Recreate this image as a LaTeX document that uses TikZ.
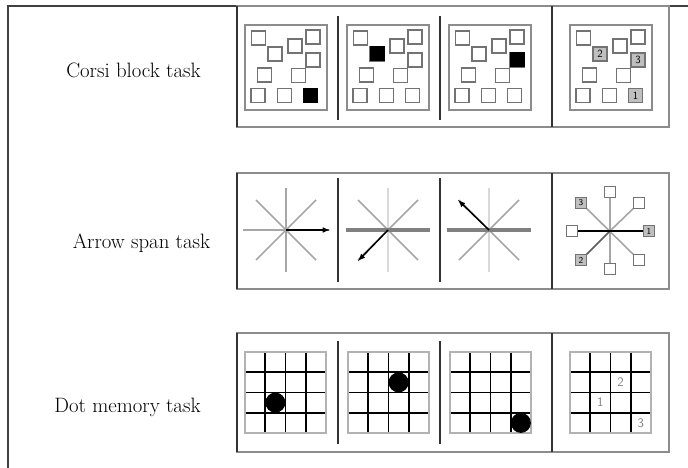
\documentclass[tikz,border=0pt]{standalone}
\usetikzlibrary{positioning}
\begin{document}
\begin{tikzpicture}[x=1pt,y=-1pt,
  rowbox/.style={draw=black!45,line width=1.8pt},
  divider/.style={draw=black!80,line width=2.2pt},
  panel/.style={draw=black!45,line width=1.6pt},
  blk/.style={draw=black!55,line width=1.5pt},
  numblk/.style={draw=black!55,fill=black!25,line width=1.2pt,minimum size=#1,inner sep=0pt,font=\sffamily\fontsize{11}{11}\selectfont},
  endblk/.style={draw=black!55,fill=white,line width=1.3pt,minimum size=10.5pt,inner sep=0pt},
  spoke/.style={draw=black!35,line width=1.6pt},
  tasklabel/.style={anchor=base,font=\fontsize{20.8}{24}\selectfont}]
\useasboundingbox (0,0) rectangle (688,468);
\clip (0,0) rectangle (688,468);

% outer frame
\draw[black!75,line width=1.8pt] (8,472) -- (8,6) -- (692,6);

% row boxes
\draw[rowbox] (237,6) rectangle (669,127);
\draw[rowbox] (237,173) rectangle (669,289);
\draw[rowbox] (237,333) rectangle (669,452);
\draw[black!80,line width=2pt] (237,6) -- (237,127) (237,173) -- (237,289) (237,333) -- (237,452);

% dividers
\foreach \x in {338,440} {
  \draw[divider] (\x,16) -- (\x,120);
  \draw[divider] (\x,178) -- (\x,282);
  \draw[divider] (\x,341) -- (\x,444);
}
\draw[divider] (552,6) -- (552,127);
\draw[divider] (552,173) -- (552,289);
\draw[divider] (552,333) -- (552,452);

% labels
\node[tasklabel] (corsi) at (133.5,78) {Corsi block task};
\node[tasklabel] (arrow) at (141.5,248) {Arrow span task};
\node[tasklabel] (dot) at (127.5,412) {Dot memory task};

%% Corsi block task
\def\corsilist{13.5/13,30/29,50/21,68/12,68/35,19.5/50,53.5/50.5,13/70.5,39.5/70.5,65.5/70.5}
\foreach \ox/\fx/\fy in {245/65.5/70.5,347/30/29,449/68/35} {
  \begin{scope}[shift={(\ox,25)}]
  \draw[panel] (0,0) rectangle (82,85);
  \foreach \x/\y in \corsilist {\draw[blk] (\x-7,\y-7) rectangle ++(14,14);}
  \fill[black] (\fx-7.5,\fy-7.5) rectangle ++(15,15);
  \end{scope}
}
\begin{scope}[shift={(570,25)}]
\draw[panel] (0,0) rectangle (82,85);
\foreach \x/\y in {13.5/13,50/21,68/12,19.5/50,53.5/50.5,13/70.5,39.5/70.5} {\draw[blk] (\x-7,\y-7) rectangle ++(14,14);}
\node[numblk=14pt] (cb2) at (30,29) {2};
\node[numblk=14pt] (cb3) at (68,35) {3};
\node[numblk=14pt] (cb1) at (65.5,70.5) {1};
\end{scope}

%% Arrow span task
\coordinate (as1) at (286,230);
\coordinate (as2) at (388,230);
\coordinate (as3) at (489,230);
\coordinate (as4) at (610,231);
\draw[spoke] (as1) ++(-43,0) -- ++(86,0);
\draw[spoke] (as1) ++(0,-42) -- ++(0,84);
\draw[spoke] (as1) ++(-30,-30) -- ++(60,60);
\draw[spoke] (as1) ++(-30,30) -- ++(60,-60);
\draw[black,line width=1.5pt,-latex] (as1) -- ++(44,0);
\foreach \c/\dx/\dy in {as2/-30/31,as3/-31/-30} {
  \draw[spoke,black!15] (\c) ++(0,-42) -- ++(0,84);
  \draw[spoke] (\c) ++(-30,-30) -- ++(60,60);
  \draw[spoke] (\c) ++(-30,30) -- ++(60,-60);
  \draw[black!50,line width=3.2pt] (\c) ++(-42,0) -- ++(84,0);
  \draw[black,line width=1.5pt,-latex] (\c) -- ++(\dx,\dy);
}
\draw[spoke] (as4) ++(0,-39) -- ++(0,78);
\draw[spoke] (as4) ++(-29,-28) -- ++(58,57);
\draw[spoke] (as4) ++(29,-28) -- (as4);
\draw[spoke,black!65] (as4) -- ++(-29,29);
\draw[black,line width=1.5pt] (as4) ++(-38,0) -- ++(77,0);
\node[endblk] (e1) at (610,192) {};
\node[endblk] (e2) at (639,203) {};
\node[endblk] (e3) at (639,260) {};
\node[endblk] (e4) at (610,269) {};
\node[endblk] (e5) at (572,231) {};
\node[numblk=10.5pt,font=\sffamily\fontsize{9}{9}\selectfont] (n1) at (649,231) {1};
\node[numblk=10.5pt,font=\sffamily\fontsize{9}{9}\selectfont] (n2) at (581,260) {2};
\node[numblk=10.5pt,font=\sffamily\fontsize{9}{9}\selectfont] (n3) at (581,203) {3};

%% Dot memory task
\foreach \ox in {245,348,450,570} {
  \begin{scope}[shift={(\ox,352)}]
  \foreach \i in {1,2,3} {
    \draw[black,line width=1.8pt] (\i*20.25,0) -- (\i*20.25,81);
    \draw[black,line width=1.8pt] (0,\i*20.25) -- (81,\i*20.25);
  }
  \draw[black!30,line width=1.5pt] (0,0) rectangle (81,81);
  \end{scope}
}
\fill[black] (275.4,402.6) circle (10);
\fill[black] (398.6,382.4) circle (10);
\fill[black] (520.9,422.9) circle (10);
\begin{scope}[every node/.style={text=black!50,font=\sffamily\fontsize{13}{13}\selectfont}]
\node (d2) at (620.6,382.4) {2};
\node (d1) at (600.4,402.6) {1};
\node (d3) at (640.9,422.9) {3};
\end{scope}
\end{tikzpicture}
\end{document}
